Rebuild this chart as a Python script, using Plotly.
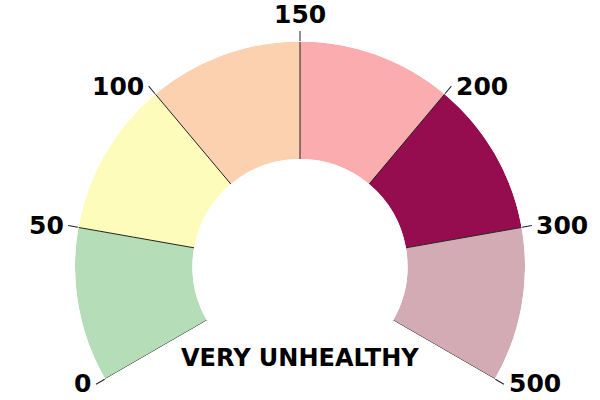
import math
import plotly.graph_objects as go

# Data
boundary_labels = ["0", "50", "100", "150", "200", "300", "500"]
segment_names = ["Good", "Moderate", "Unhealthy for Sensitive Groups", "Unhealthy", "Very Unhealthy", "Hazardous"]
segment_colors = ["#b4ddb8", "#fefcbb", "#fcd1b0", "#fbacae", "#960d4f", "#d3abb5"]
status_text = "VERY UNHEALTHY"

W, H = 600, 400
n = len(segment_names)
span = 240.0
step = span / n
start = -span / 2
boundaries = [start + step * i for i in range(n + 1)]
centers = [start + step * (i + 0.5) for i in range(n)]

# gauge geometry (pixels)
cx, cy, R, tick_len = 300.0, 266.5, 225.0, 10

fig = go.Figure()
fig.add_trace(go.Barpolar(
    r=[1] * n,
    theta=centers,
    width=[step] * n,
    marker=dict(color=segment_colors, line=dict(width=0)),
    hoverinfo="skip",
    showlegend=False,
))
for b in boundaries:
    fig.add_trace(go.Scatterpolar(
        r=[0, 1], theta=[b, b], mode="lines",
        line=dict(color="#222222", width=1),
        hoverinfo="skip", showlegend=False,
    ))

label_font = dict(family="DejaVu Sans", size=25, color="black", weight="bold")
annotations = []
for b, lab in zip(boundaries, boundary_labels):
    a = math.radians(b)
    px = cx + (R + tick_len) * math.sin(a)
    py = cy - (R + tick_len) * math.cos(a)
    if abs(b) < 1e-9:
        xa, ya, xs, ys = "center", "bottom", 0, 0
    elif b < 0:
        xa, ya, xs, ys = "right", "middle", -3, 0
    else:
        xa, ya, xs, ys = "left", "middle", 3, 0
    annotations.append(dict(
        text=lab, x=px / W, y=1 - py / H, xref="paper", yref="paper",
        xanchor=xa, yanchor=ya, xshift=xs, yshift=ys, showarrow=False,
        font=label_font,
    ))
annotations.append(dict(
    text=status_text, x=0.5, y=(H - 358) / H, xref="paper", yref="paper",
    showarrow=False, font=dict(family="DejaVu Sans", size=24, color="black", weight="bold"),
    xanchor="center", yanchor="middle",
))

fig.update_layout(
    width=W, height=H, autosize=False,
    margin=dict(l=0, r=0, t=0, b=0),
    paper_bgcolor="white",
    polar=dict(
        domain=dict(x=[(cx - R) / W, (cx + R) / W],
                    y=[1 - (cy + R / 2) / H, 1 - (cy - R) / H]),
        sector=[-30, 210],
        hole=0.478,
        bgcolor="white",
        radialaxis=dict(visible=False, range=[0, 1]),
        angularaxis=dict(
            rotation=90, direction="clockwise",
            tickmode="array", tickvals=boundaries,
            ticks="outside", ticklen=tick_len, tickcolor="#222222", tickwidth=1,
            showline=False, showgrid=False, showticklabels=False,
        ),
    ),
    annotations=annotations,
)
fig.write_html("out.html")
